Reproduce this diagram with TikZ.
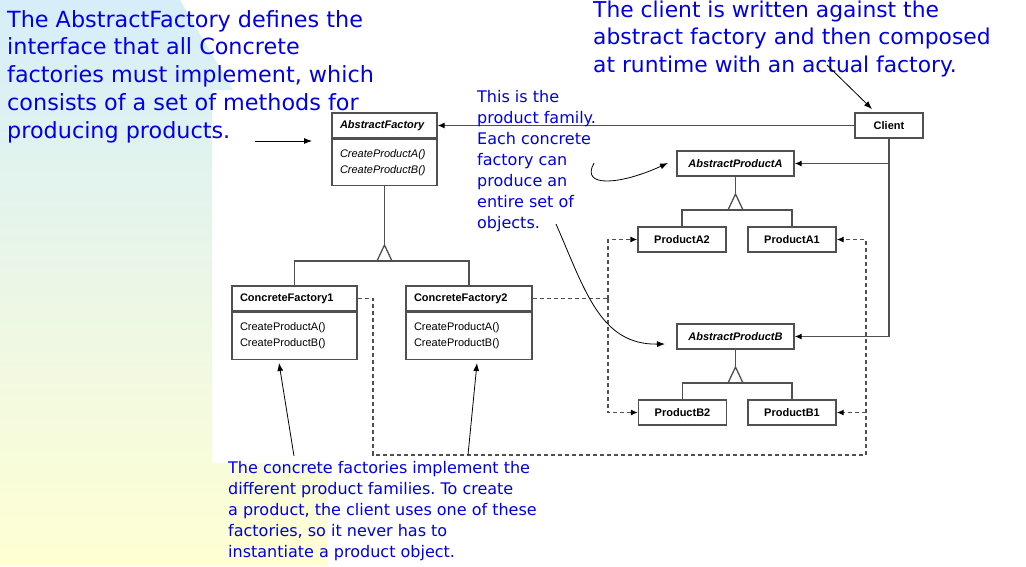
\documentclass[tikz,border=0pt]{standalone}
\usepackage{fontspec}
\setmainfont{DejaVu Sans}
\newfontfamily\umlfont{Liberation Sans}
\usetikzlibrary{arrows.meta,positioning,calc}
\definecolor{note}{HTML}{0000E6}
\definecolor{linec}{HTML}{505050}
\definecolor{bgtop}{HTML}{D6EEFA}
\definecolor{bgmid}{HTML}{F0F9E6}
\definecolor{bgbot}{HTML}{FFFFD2}
\newcommand{\umlsize}{\umlfont\fontsize{11}{16}\selectfont}
\newcommand{\notebig}{\fontsize{22.3}{27.75}\selectfont}
\newcommand{\notemid}{\fontsize{21.8}{27.5}\selectfont}
\newcommand{\notesmall}{\fontsize{16}{21}\selectfont}
\newcommand{\gentri}[2]{\draw[uml,fill=white] (#1,#2) -- (#1-7.5,#2+16) -- (#1+7.5,#2+16) -- cycle;}
\frenchspacing

\begin{document}
\begin{tikzpicture}[x=1pt,y=-1pt,
  uml/.style={draw=linec,line width=1.3pt},
  box/.style={uml,fill=white,minimum height=25pt,inner sep=0pt,font=\umlsize},
  head/.style={box,align=left,inner xsep=8pt},
  assoc/.style={uml,-{Latex[length=7pt,width=6pt,black]}},
  depline/.style={uml,dash pattern=on 4pt off 3pt},
  dep/.style={depline,-{Latex[length=7pt,width=6pt,black]}},
  note/.style={text=note,align=left,anchor=north west,inner sep=0pt},
  call/.style={black,line width=0.8pt,-{Latex[length=8pt,width=6pt]}}]
\useasboundingbox (0,0) rectangle (1026,566);
\fill[white] (0,0) rectangle (1026,566);
\shade[top color=bgtop,middle color=bgmid,bottom color=bgbot] (0,0) -- (180,0) -- (233,90) -- (212,90) -- (212,463) -- (327,463) -- (327,566) -- (0,566) -- cycle;

% factories
\node[head,text width=89pt,font=\umlsize\bfseries\itshape] (af) at (384.5,125.5) {AbstractFactory};
\node[head,text width=89pt,minimum height=46pt,font=\umlsize\itshape,below=0pt of af] (afb) {CreateProductA()\\CreateProductB()};
\node[head,text width=109pt,font=\umlsize\bfseries] (cf1) at (294.5,298.5) {ConcreteFactory1};
\node[head,text width=109pt,minimum height=47pt,below=0pt of cf1] (cf1b) {CreateProductA()\\CreateProductB()};
\node[head,text width=110pt,font=\umlsize\bfseries] (cf2) at (469,298.5) {ConcreteFactory2};
\node[head,text width=110pt,minimum height=47pt,below=0pt of cf2] (cf2b) {CreateProductA()\\CreateProductB()};
\draw[uml] (afb.south) -- (384.5,245); \gentri{384.5}{245}
\coordinate (afj) at (384.5,261);
\draw[uml] (afj) -| (cf1.north); \draw[uml] (afj) -| (cf2.north);

% products
\node[box,minimum width=117pt,font=\umlsize\bfseries\itshape] (apa) at (735.5,163.5) {AbstractProductA};
\node[box,minimum width=88pt,font=\umlsize\bfseries] (pa2) at (682,239.5) {ProductA2};
\node[box,minimum width=88pt,font=\umlsize\bfseries] (pa1) at (792,239.5) {ProductA1};
\draw[uml] (apa.south) -- (735.5,194); \gentri{735.5}{194}
\coordinate (apj) at (735.5,210);
\draw[uml] (apj) -| (pa2.north); \draw[uml] (apj) -| (pa1.north);
\node[box,minimum width=117pt,font=\umlsize\bfseries\itshape] (apb) at (735.5,336.5) {AbstractProductB};
\node[box,minimum width=88pt,font=\umlsize\bfseries] (pb2) at (682.5,412.5) {ProductB2};
\node[box,minimum width=88pt,font=\umlsize\bfseries] (pb1) at (792,412.5) {ProductB1};
\draw[uml] (apb.south) -- (735.5,367); \gentri{735.5}{367}
\coordinate (bpj) at (735.5,383);
\draw[uml] (bpj) -| (pb2.north); \draw[uml] (bpj) -| (pb1.north);

% client
\node[box,minimum width=68pt,font=\umlsize\bfseries] (cl) at (889,125.5) {Client};
\draw[assoc] (cl) -- (af);
\draw[assoc] (cl.south) |- (apb.east);
\draw[assoc] (cl.south |- apa.east) -- (apa.east);

% creates
\coordinate (d1) at (373,455); \coordinate (d2) at (866,455);
\coordinate (d3) at (608,298.5);
\draw[dep] (cf1.east) -| (d1) -- (d2) |- (pa1.east);
\draw[dep] (d2 |- pb1.east) -- (pb1.east);
\draw[depline] (cf2.east) -- (d3);
\draw[dep] (d3) |- (pa2.west);
\draw[dep] (d3) |- (pb2.west);

% notes
\node[note,font=\notebig] (n1) at (7,10) {The AbstractFactory defines the\\interface that all Concrete\\factories must implement, which\\consists of a set of methods for\\producing products.};
\node[note,font=\notemid] (n2) at (593,0.5) {The client is written against the\\abstract factory and then composed\\at runtime with an actual factory.};
\node[note,font=\notesmall] (n3) at (477,90) {This is the\\product family.\\Each concrete\\factory can\\produce an\\entire set of\\objects.};
\node[note,font=\notesmall] (n4) at (228,461) {The concrete factories implement the\\different product families. To create\\a product, the client uses one of these\\factories, so it never has to\\instantiate a product object.};

\coordinate (c1) at (255,141); \coordinate (c1e) at (312,141);
\draw[call] (c1) -- (c1e);
\coordinate (c2) at (827,65); \coordinate (c2e) at (872,109);
\draw[call] (c2) -- (c2e);
\coordinate (c3) at (594,163); \coordinate (c3e) at (668,163);
\draw[call] (c3) .. controls (580,188) and (620,185) .. (c3e);
\coordinate (c4) at (556,224); \coordinate (c4e) at (665,344);
\draw[call] (c4) .. controls (585,290) and (600,345) .. (c4e);
\coordinate (c5) at (294,456); \coordinate (c5e) at (279,363);
\draw[call] (c5) -- (c5e);
\coordinate (c6) at (468,455); \coordinate (c6e) at (477,363);
\draw[call] (c6) -- (c6e);
\end{tikzpicture}
\end{document}
